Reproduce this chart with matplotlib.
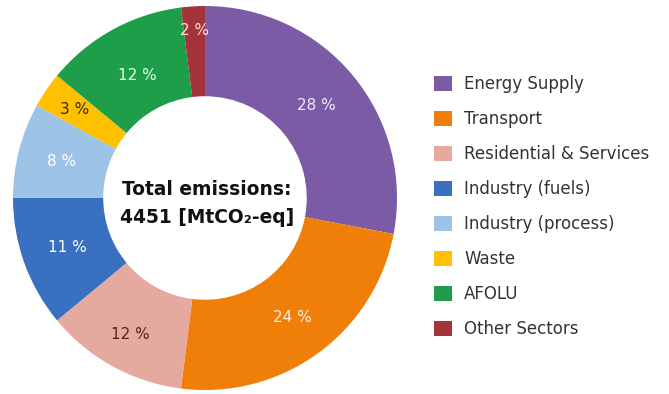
import numpy as np
import matplotlib.pyplot as plt

sectors = ["Energy Supply", "Transport", "Residential & Services", "Industry (fuels)",
           "Industry (process)", "Waste", "AFOLU", "Other Sectors"]
shares = [28, 24, 12, 11, 8, 3, 12, 2]
colors = ["#7b5aa6", "#f07f09", "#e5a9a0", "#3a70c0", "#9dc3e6", "#ffc000", "#1f9e4a", "#a5333a"]
label_colors = ["#f0eaff", "#fff3e0", "#5a2020", "#ffffff", "#ffffff", "#3a2a00", "#e0ffe8", "#ffdede"]
# radial position of each percent label (fraction of outer radius)
label_r = [0.755, 0.77, 0.81, 0.76, 0.77, 0.82, 0.73, 0.875]
total = 4451

W, H = 669, 394
fig = plt.figure(figsize=(W / 100, H / 100), dpi=100, facecolor="white")

# donut, centre (205, 198) px from top-left, outer radius 192 px
cx, cy, R = 205, 198, 192
ax = fig.add_axes([(cx - R) / W, (H - cy - R) / H, 2 * R / W, 2 * R / H])
wedges, texts, autotexts = ax.pie(
    shares, colors=colors, startangle=90, counterclock=False, radius=1,
    wedgeprops=dict(width=0.47, linewidth=0),
    autopct=lambda p: f"{p:.0f} %", pctdistance=0.76,
    textprops=dict(fontsize=11),
)
for w, t, c, r in zip(wedges, autotexts, label_colors, label_r):
    mid = np.deg2rad((w.theta1 + w.theta2) / 2)
    t.set_position((r * np.cos(mid), r * np.sin(mid)))
    t.set_color(c)
ax.set_xlim(-1, 1)
ax.set_ylim(-1, 1)
ax.set_aspect("equal")
ax.axis("off")

ax.text(0.01, 0.045, "Total emissions:", ha="center", va="center",
        fontsize=13.4, fontweight="bold", color="#111")
ax.text(0.01, -0.1, f"{total} [MtCO₂-eq]", ha="center", va="center",
        fontsize=13.4, fontweight="bold", color="#111")

fig.legend(wedges, sectors, loc="upper left", bbox_to_anchor=(419 / W, 1 - 60 / H),
           frameon=False, fontsize=12, handlelength=1.05, handleheight=1.05,
           handletextpad=0.75, labelspacing=1.02, labelcolor="#333")

fig.savefig("out.png", dpi=100, facecolor="white")
